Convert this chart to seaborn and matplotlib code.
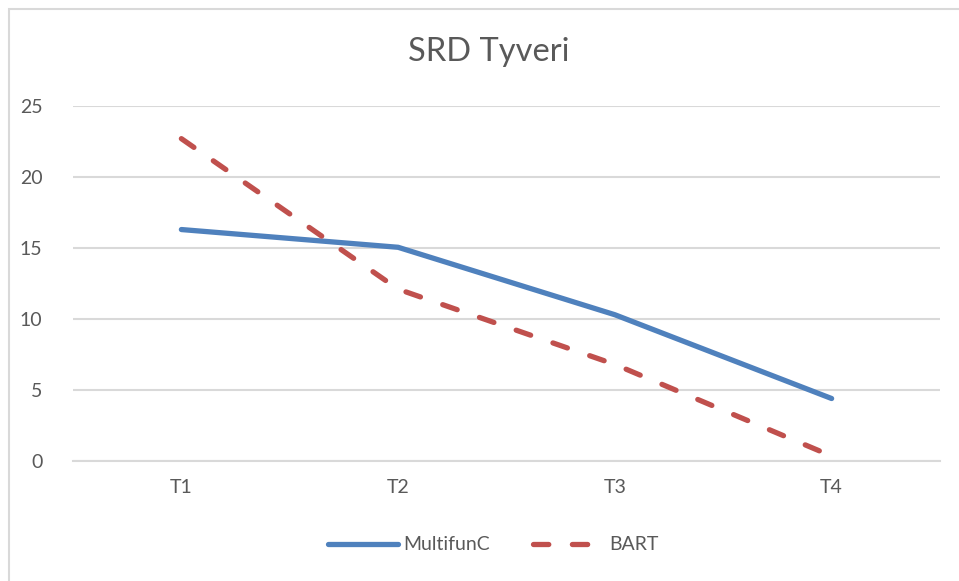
import matplotlib
matplotlib.use("Agg")
import matplotlib.pyplot as plt
import seaborn as sns
import pandas as pd
from matplotlib.lines import Line2D
from matplotlib.patches import Rectangle

categories = ["T1", "T2", "T3", "T4"]
multifunc = [16.3, 15.05, 10.3, 4.4]
bart = [22.7, 12.1, 6.8, 0.35]
series_names = ["MultifunC", "BART"]
yticks = [0, 5, 10, 15, 20, 25]

sns.set_theme(style="white")
plt.rcParams['font.family'] = ['Lato', 'DejaVu Sans']
plt.rcParams['lines.scale_dashes'] = False

text_color = "#595959"
grid_color = "#D9D9D9"
blue = "#4F81BD"
red = "#C0504D"

fig = plt.figure(figsize=(9.59, 5.81), dpi=100)
ax = fig.add_axes([73/959, 1-461/581, (940-73)/959, (461-106)/581])

df_m = pd.DataFrame({"cat": categories, "val": multifunc})
df_b = pd.DataFrame({"cat": categories, "val": bart})

sns.lineplot(data=df_m, x="cat", y="val", ax=ax, color=blue, lw=3.8,
             solid_capstyle="round", solid_joinstyle="round", legend=False)
sns.lineplot(data=df_b, x="cat", y="val", ax=ax, color=red, lw=3.8,
             dashes=False, legend=False)
ax.lines[-1].set_dashes([11, 17])
ax.lines[-1].set_dash_capstyle("round")

ax.set_xlim(-0.5, 3.5)
ax.set_ylim(0, 25)
ax.set_yticks(yticks)
ax.set_yticklabels([str(t) for t in yticks])
ax.grid(axis="y", color=grid_color, lw=1.5)
ax.set_axisbelow(True)
for s in ["top", "right", "left"]:
    ax.spines[s].set_visible(False)
ax.spines["bottom"].set_color(grid_color)
ax.spines["bottom"].set_linewidth(1.5)
ax.tick_params(axis="both", length=0, labelsize=14, colors=text_color)
ax.tick_params(axis="y", pad=22)
ax.tick_params(axis="x", pad=13)
ax.set_xlabel("")
ax.set_ylabel("")

fig.text(489/959, 1-52/581, "SRD Tyveri", ha="center", va="center",
         fontsize=23.5, color=text_color)

handles = [
    Line2D([0], [0], color=blue, lw=3.8, solid_capstyle="round"),
    Line2D([0], [0], color=red, lw=3.8, dashes=[11, 17], dash_capstyle="round"),
]
leg = fig.legend(handles, series_names, loc="center", ncol=2,
                 bbox_to_anchor=(493/959, 1-545/581), frameon=False,
                 fontsize=14, handlelength=3.6, columnspacing=2.2, handletextpad=0.3)
for t in leg.get_texts():
    t.set_color(text_color)

fig.add_artist(Rectangle((8.5/959, -0.1), 1.2, 1 - 8.5/581 + 0.1, transform=fig.transFigure,
                         fill=False, edgecolor=grid_color, lw=1.5))

fig.savefig("out.png", dpi=100)
